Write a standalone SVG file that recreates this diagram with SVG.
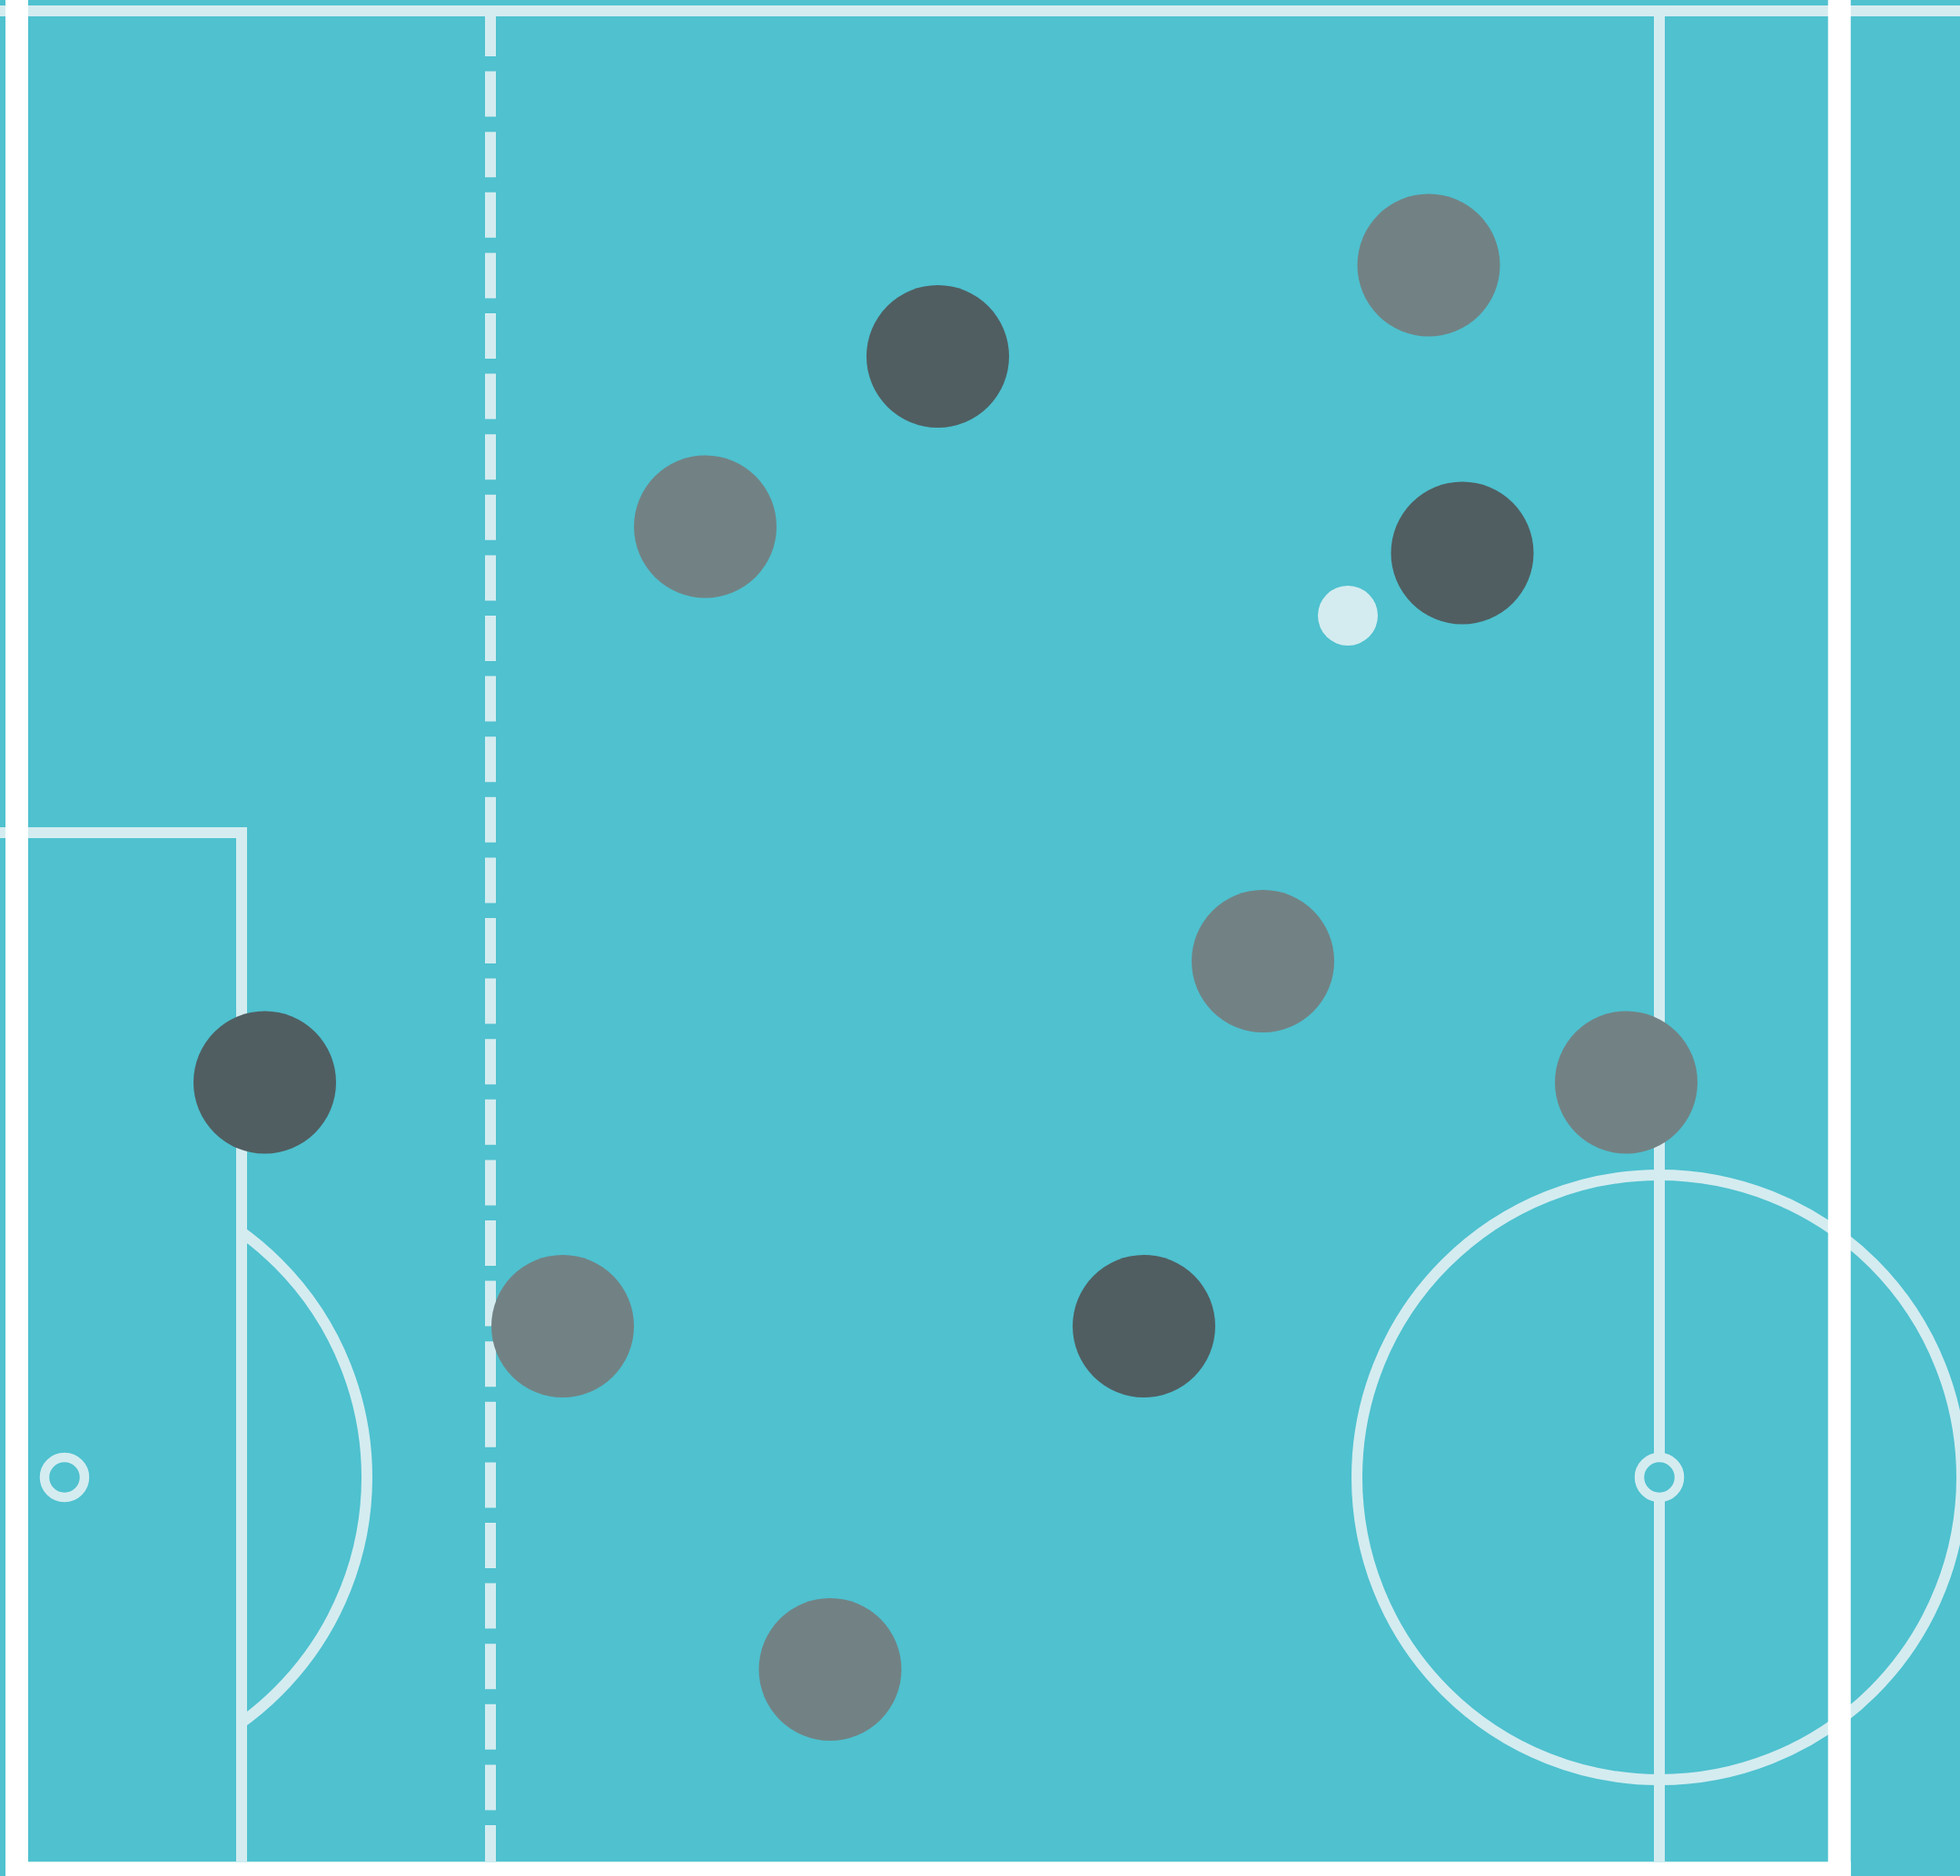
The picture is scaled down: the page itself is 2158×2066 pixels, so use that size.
<svg xmlns="http://www.w3.org/2000/svg" width="2158" height="2066" viewBox="0 0 2158 2066">
  <style>
    .ln { stroke: #d4ecf0; stroke-width: 12; fill: none; }
    .spot { stroke: #d4ecf0; stroke-width: 10.5; fill: #4fc1cf; }
    .dark { fill: #505e61; }
    .grey { fill: #728284; }
    .ball { fill: #d4ecf0; }
    .edge { fill: #ffffff; }
  </style>
  <defs>
    <clipPath id="arcClip">
      <rect x="266" y="0" width="400" height="2066"/>
    </clipPath>
  </defs>
  <rect x="0" y="0" width="2158" height="2066" fill="#4fc1cf"/>
  <g id="pitch-lines">
    <line class="ln" x1="0" y1="12" x2="2158" y2="12"/>
    <line class="ln" x1="540" y1="12" x2="540" y2="2050" stroke-dasharray="50 16.6"/>
    <line class="ln" x1="1827" y1="12" x2="1827" y2="2050"/>
    <polyline class="ln" points="0,917 266,917 266,2050"/>
    <circle class="ln" cx="1827" cy="1627" r="333" stroke-width="11"/>
    <circle class="ln" cx="71" cy="1627" r="333" stroke-width="11" clip-path="url(#arcClip)"/>
    <circle class="spot" cx="71" cy="1627" r="22"/>
    <circle class="spot" cx="1827" cy="1627" r="22"/>
  </g>
  <g id="players">
    <circle class="grey" cx="1573" cy="292" r="78.5"/>
    <circle class="dark" cx="1032.5" cy="392.5" r="78.5"/>
    <circle class="grey" cx="776.5" cy="580" r="78.5"/>
    <circle class="dark" cx="1610" cy="609" r="78.5"/>
    <circle class="grey" cx="1390.5" cy="1058.5" r="78.5"/>
    <circle class="dark" cx="291.5" cy="1192" r="78.5"/>
    <circle class="grey" cx="1790.5" cy="1192" r="78.5"/>
    <circle class="grey" cx="619.5" cy="1460.5" r="78.5"/>
    <circle class="dark" cx="1259.5" cy="1460.5" r="78.5"/>
    <circle class="grey" cx="914" cy="1838.5" r="78.5"/>
  </g>
  <g id="ball">
    <circle class="ball" cx="1484" cy="678" r="33"/>
  </g>
  <g id="boundary">
    <rect class="edge" x="6" y="0" width="25" height="2066"/>
    <rect class="edge" x="2012.7" y="0" width="25" height="2066"/>
    <rect class="edge" x="6" y="2050.3" width="2031.7" height="15.7"/>
  </g>
</svg>
